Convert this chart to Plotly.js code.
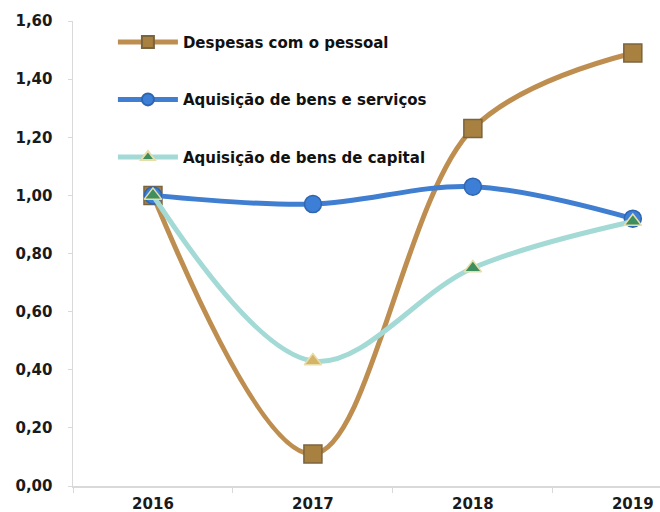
<!DOCTYPE html>
<html>
<head>
<meta charset="utf-8">
<script src="https://cdn.plot.ly/plotly-3.0.1.min.js"></script>
<style>html,body{margin:0;padding:0;background:#fff;}#chart{width:660px;height:512px;}</style>
</head>
<body>
<div id="chart"></div>
<script>
const years = ['2016', '2017', '2018', '2019'];
const seriesNames = ['Despesas com o pessoal', 'Aquisição de bens e serviços', 'Aquisição de bens de capital'];
const despesasPessoal = [1.00, 0.11, 1.23, 1.49];
const bensServicos = [1.00, 0.97, 1.03, 0.92];
const bensCapital = [1.00, 0.43, 0.75, 0.91];
const yTicks = [0, 0.2, 0.4, 0.6, 0.8, 1.0, 1.2, 1.4, 1.6];

const FONT = 'DejaVu Sans, Verdana, sans-serif';

const traces = [
  {
    x: years, y: despesasPessoal, name: seriesNames[0], legendgroup: 'a',
    type: 'scatter', mode: 'lines+markers',
    line: {color: '#BE8E50', width: 5, shape: 'spline', smoothing: 1},
    marker: {symbol: 'square', size: 18, color: '#A8803F', line: {color: '#7A6440', width: 1.5}}
  },
  {
    x: years, y: bensServicos, name: seriesNames[1], legendgroup: 'b',
    type: 'scatter', mode: 'lines+markers',
    line: {color: '#3F7ED0', width: 5, shape: 'spline', smoothing: 1},
    marker: {symbol: 'circle', size: 17, color: '#3D7ED6', line: {color: '#2E66B0', width: 1.5}}
  },
  {
    x: years, y: bensCapital, name: seriesNames[2], legendgroup: 'c',
    type: 'scatter', mode: 'lines+markers',
    line: {color: '#A3DAD6', width: 5, shape: 'spline', smoothing: 1},
    marker: {symbol: 'triangle-up', size: 15, color: ['#3E8E5E', '#D4B468', '#3E8E5E', '#3E8E5E'], line: {color: '#E8DDA8', width: 1.5}}
  }
];

const layout = {
  width: 660, height: 512,
  margin: {l: 73, r: 0, t: 21, b: 26},
  paper_bgcolor: '#ffffff', plot_bgcolor: '#ffffff',
  font: {family: FONT, size: 15, color: '#1a1a1a'},
  separators: ',.',
  showlegend: true,
  legend: {
    x: 0.068, y: 0.99, xanchor: 'left', yanchor: 'top',
    bgcolor: 'rgba(0,0,0,0)',
    font: {family: FONT, size: 15, color: '#111', weight: 'bold'},
    traceorder: 'grouped', tracegroupgap: 35,
    itemwidth: 60, itemsizing: 'constant'
  },
  xaxis: {
    type: 'category', range: [-0.5, 3.17],
    showgrid: false, zeroline: false,
    showline: true, linecolor: '#d9d9d9', linewidth: 1.5,
    ticks: 'outside', tickson: 'boundaries', ticklen: 5, tickcolor: '#d9d9d9',
    ticklabelstandoff: 3,
    tickfont: {family: FONT, size: 15, color: '#1a1a1a', weight: 'bold'},
    fixedrange: true
  },
  yaxis: {
    range: [0, 1.6], tickvals: yTicks, tickformat: '.2f',
    showgrid: false, zeroline: false,
    showline: true, linecolor: '#d9d9d9', linewidth: 1.5,
    ticks: 'outside', ticklen: 4, tickcolor: '#d9d9d9',
    ticklabelstandoff: 12,
    tickfont: {family: FONT, size: 15, color: '#1a1a1a', weight: 'bold'},
    fixedrange: true
  }
};

Plotly.newPlot('chart', traces, layout, {displayModeBar: false, staticPlot: true});
</script>
</body>
</html>
